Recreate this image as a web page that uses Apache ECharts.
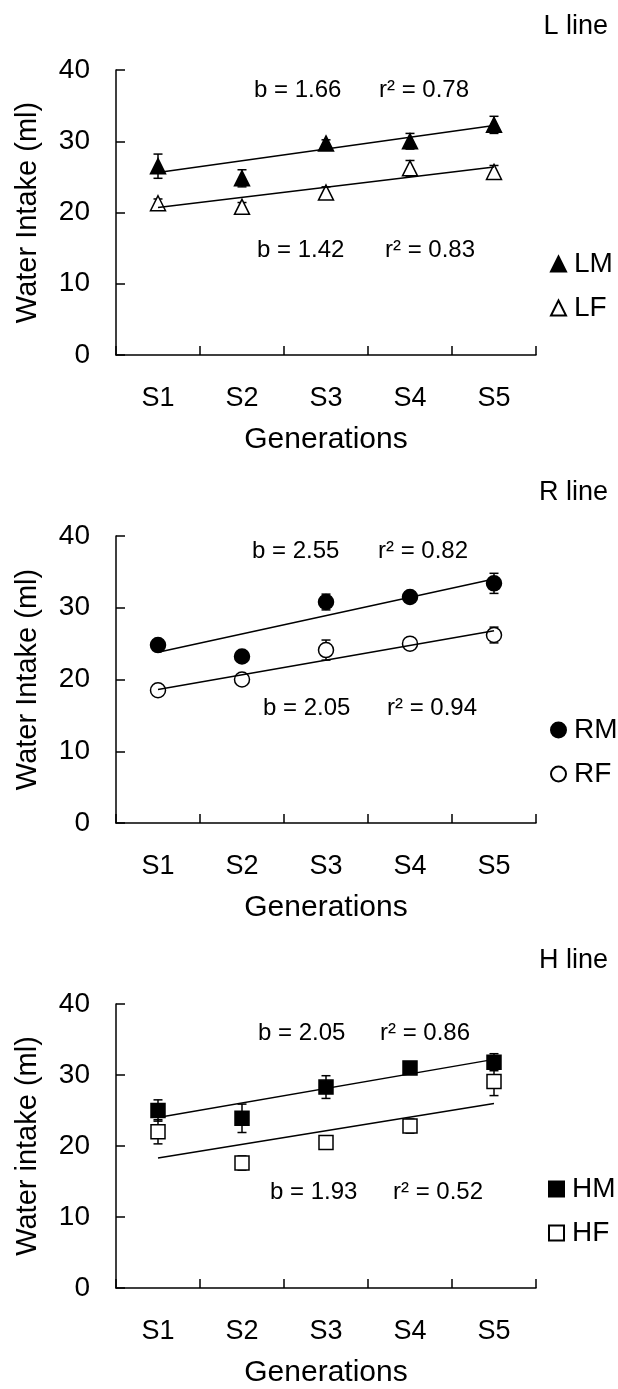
<!DOCTYPE html>
<html>
<head>
<meta charset="utf-8">
<script src="https://cdn.jsdelivr.net/npm/echarts@6/dist/echarts.min.js"></script>
<style>
html,body{margin:0;padding:0;background:#fff;}
#chart{width:618px;height:1389px;}
</style>
</head>
<body>
<div id="chart"></div>
<script>
// ---- data ----
var categories = ['S1', 'S2', 'S3', 'S4', 'S5'];
var yTicks = [0, 10, 20, 30, 40];

var panelTitles = ['L line', 'R line', 'H line'];
var yTitles = ['Water Intake (ml)', 'Water Intake (ml)', 'Water intake (ml)'];
var xTitle = 'Generations';

// L line
var lmMean = [26.5, 24.8, 29.7, 30.0, 32.3];
var lmErr  = [1.7, 1.2, 0.5, 1.1, 1.2];
var lfMean = [21.3, 20.8, 22.8, 26.2, 25.7];
var lfErr  = [0.6, 0.6, 0.8, 1.1, 0.9];
var lmTrend = [25.6, 32.2];
var lfTrend = [20.7, 26.4];

// R line
var rmMean = [24.8, 23.2, 30.8, 31.5, 33.4];
var rmErr  = [0.5, 0.4, 1.1, 0.4, 1.4];
var rfMean = [18.5, 20.0, 24.1, 25.0, 26.2];
var rfErr  = [0.7, 0.4, 1.4, 0.4, 1.1];
var rmTrend = [23.8, 34.0];
var rfTrend = [18.6, 26.8];

// H line
var hmMean = [25.0, 23.9, 28.3, 31.0, 31.8];
var hmErr  = [1.5, 2.0, 1.6, 0.4, 1.2];
var hfMean = [22.0, 17.6, 20.5, 22.8, 29.1];
var hfErr  = [1.7, 1.0, 0.3, 1.0, 2.0];
var hmTrend = [24.0, 32.2];
var hfTrend = [18.3, 26.0];

var maleNames = ['LM', 'RM', 'HM'];
var femaleNames = ['LF', 'RF', 'HF'];
var maleSlope = ['b = 1.66', 'b = 2.55', 'b = 2.05'];
var maleR2 = ['r² = 0.78', 'r² = 0.82', 'r² = 0.86'];
var femaleSlope = ['b = 1.42', 'b = 2.05', 'b = 1.93'];
var femaleR2 = ['r² = 0.83', 'r² = 0.94', 'r² = 0.52'];

// ---- layout / style ----
var FONT = 'Liberation Sans, Arial, sans-serif';
var gridTops = [70, 536, 1004];
var gridHeights = [285, 287, 286];
var symbols = ['triangle', 'circle', 'rect'];
var symbolSizes = [15, 15, 14];
var maleMeans = [lmMean, rmMean, hmMean];
var maleErrs = [lmErr, rmErr, hmErr];
var femaleMeans = [lfMean, rfMean, hfMean];
var femaleErrs = [lfErr, rfErr, hfErr];
var maleTrends = [lmTrend, rmTrend, hmTrend];
var femaleTrends = [lfTrend, rfTrend, hfTrend];
// annotation positions [x, y] (left edge, vertical middle)
var annoMale = [[254, 90, 379], [252, 551, 378], [258, 1033, 380]];
var annoFemale = [[257, 250, 385], [263, 708, 387], [270, 1192, 393]];
var legendTops = [245, 711, 1170];
var legendLefts = [545, 545, 543];

var chart = echarts.init(document.getElementById('chart'), null, {renderer: 'canvas'});

var grids = [], xAxes = [], yAxes = [], series = [], legends = [], titles = [], graphics = [];

function errSeries(name, idx, means, errs) {
  return {
    type: 'custom',
    name: name + ' err',
    xAxisIndex: idx, yAxisIndex: idx,
    z: 2,
    silent: true,
    data: means.map(function (m, i) { return [i, m, errs[i]]; }),
    renderItem: function (params, api) {
      var i = api.value(0), m = api.value(1), e = api.value(2);
      var top = api.coord([i, m + e]);
      var bot = api.coord([i, m - e]);
      var hw = 4.5;
      var st = {stroke: '#000', lineWidth: 1.5};
      return {
        type: 'group',
        children: [
          {type: 'line', shape: {x1: top[0], y1: top[1], x2: bot[0], y2: bot[1]}, style: st},
          {type: 'line', shape: {x1: top[0] - hw, y1: top[1], x2: top[0] + hw, y2: top[1]}, style: st},
          {type: 'line', shape: {x1: bot[0] - hw, y1: bot[1], x2: bot[0] + hw, y2: bot[1]}, style: st}
        ]
      };
    }
  };
}

for (var p = 0; p < 3; p++) {
  grids.push({left: 116, width: 420, top: gridTops[p], height: gridHeights[p]});
  xAxes.push({
    type: 'category', gridIndex: p, data: categories, boundaryGap: true,
    axisLine: {show: true, lineStyle: {color: '#000', width: 1.5}},
    axisTick: {show: true, inside: true, length: 9, lineStyle: {color: '#000', width: 1.5}},
    axisLabel: {color: '#000', fontSize: 27, fontFamily: FONT, margin: 30},
    splitLine: {show: false},
    name: xTitle, nameLocation: 'middle', nameGap: 70,
    nameTextStyle: {color: '#000', fontSize: 30, fontFamily: FONT}
  });
  yAxes.push({
    type: 'value', gridIndex: p, min: yTicks[0], max: yTicks[yTicks.length - 1], interval: 10,
    axisLine: {show: true, lineStyle: {color: '#000', width: 1.5}},
    axisTick: {show: true, inside: true, length: 9, lineStyle: {color: '#000', width: 1.5}},
    axisLabel: {color: '#000', fontSize: 28, fontFamily: FONT, margin: 26},
    splitLine: {show: false},
    name: yTitles[p], nameLocation: 'middle', nameGap: 74, nameRotate: 90,
    nameTextStyle: {color: '#000', fontSize: 29, fontFamily: FONT}
  });

  // error bars
  series.push(errSeries(maleNames[p], p, maleMeans[p], maleErrs[p]));
  series.push(errSeries(femaleNames[p], p, femaleMeans[p], femaleErrs[p]));

  // markers
  series.push({
    type: 'scatter', name: maleNames[p], xAxisIndex: p, yAxisIndex: p, z: 3,
    symbol: symbols[p], symbolSize: symbolSizes[p],
    itemStyle: {color: '#000', borderColor: '#000', borderWidth: 1.5, opacity: 1},
    data: maleMeans[p].map(function (v, i) { return [categories[i], v]; })
  });
  series.push({
    type: 'scatter', name: femaleNames[p], xAxisIndex: p, yAxisIndex: p, z: 3,
    symbol: symbols[p], symbolSize: symbolSizes[p],
    itemStyle: {color: '#fff', borderColor: '#000', borderWidth: 1.5, opacity: 1},
    data: femaleMeans[p].map(function (v, i) { return [categories[i], v]; })
  });

  // regression lines
  [maleTrends[p], femaleTrends[p]].forEach(function (t) {
    series.push({
      type: 'line', xAxisIndex: p, yAxisIndex: p, z: 4, silent: true,
      symbol: 'none', lineStyle: {color: '#000', width: 1.5},
      data: [[categories[0], t[0]], [categories[categories.length - 1], t[1]]]
    });
  });

  legends.push({
    data: [maleNames[p], femaleNames[p]], orient: 'vertical',
    left: legendLefts[p], top: legendTops[p],
    itemWidth: 15, itemHeight: 15, itemGap: 16,
    selectedMode: false,
    textStyle: {color: '#000', fontSize: 28, fontFamily: FONT, lineHeight: 28, padding: [0, 0, 0, 3]}
  });

  titles.push({
    text: panelTitles[p], right: 5, top: gridTops[p] - 62,
    textStyle: {color: '#000', fontSize: 27, fontWeight: 'normal', fontFamily: FONT}
  });

  var am = annoMale[p], af = annoFemale[p];
  graphics.push(
    {type: 'text', x: am[0], y: am[1], style: {text: maleSlope[p], font: '24px ' + FONT, fill: '#000', verticalAlign: 'middle', align: 'left'}},
    {type: 'text', x: am[2], y: am[1], style: {text: maleR2[p], font: '24px ' + FONT, fill: '#000', verticalAlign: 'middle', align: 'left'}},
    {type: 'text', x: af[0], y: af[1], style: {text: femaleSlope[p], font: '24px ' + FONT, fill: '#000', verticalAlign: 'middle', align: 'left'}},
    {type: 'text', x: af[2], y: af[1], style: {text: femaleR2[p], font: '24px ' + FONT, fill: '#000', verticalAlign: 'middle', align: 'left'}}
  );
}

chart.setOption({
  animation: false,
  backgroundColor: '#fff',
  title: titles,
  grid: grids,
  xAxis: xAxes,
  yAxis: yAxes,
  legend: legends,
  series: series,
  graphic: graphics
});
</script>
</body>
</html>
